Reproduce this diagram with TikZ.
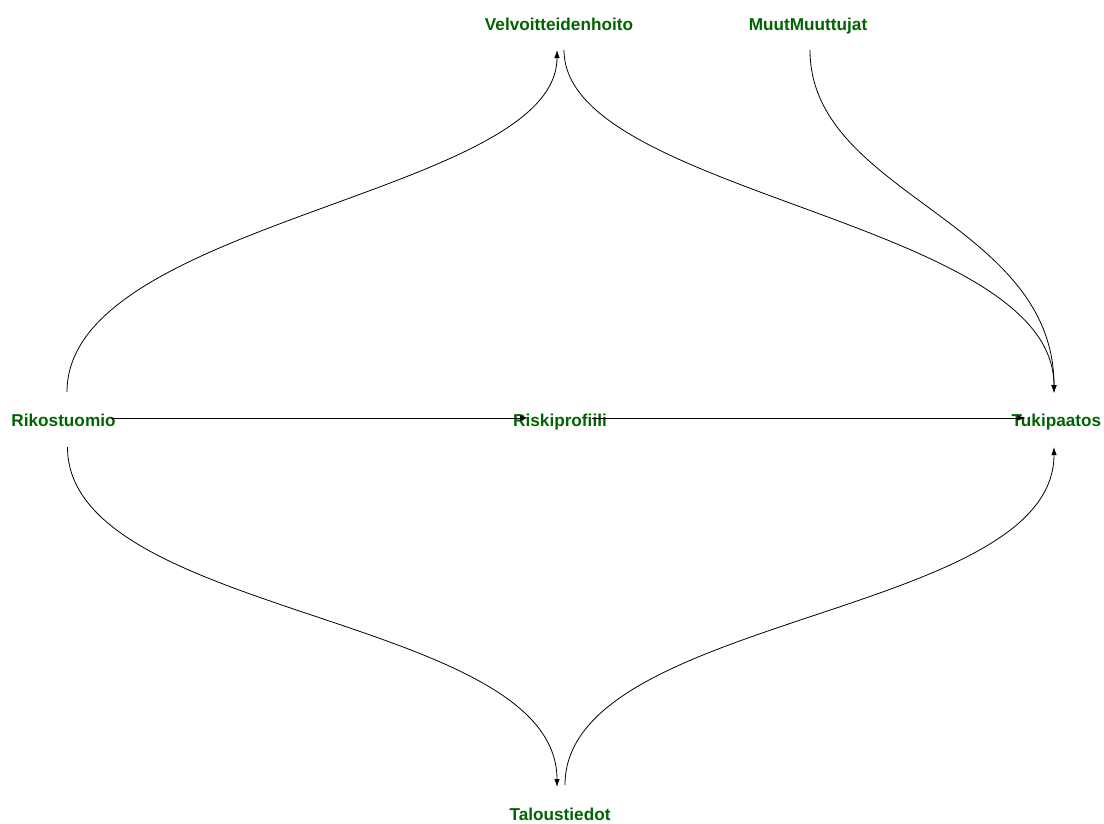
\documentclass[tikz,border=0pt]{standalone}
\usepackage{fontspec}
\setmainfont{Liberation Sans}
\usetikzlibrary{arrows.meta,calc}
\definecolor{dgreen}{RGB}{0,100,0}
\tikzset{
  var/.style={text=dgreen, font=\bfseries\fontsize{17.2}{19}\selectfont, inner sep=0pt, text height=12.5pt, text depth=0pt},
  edge/.style={line width=0.8pt, -{Latex[length=8pt,width=5.5pt]}}
}
\begin{document}
\begin{tikzpicture}[x=1pt,y=-1pt]
\useasboundingbox (0,0) rectangle (1104,823);
\node[var] (rik) at (63.5,420) {Rikostuomio};
\node[var] (risk) at (560,420) {Riskiprofiili};
\node[var] (tuki) at (1056.5,420) {Tukipaatos};
\node[var] (velv) at (559,24) {Velvoitteidenhoito};
\node[var] (muut) at (808,24) {MuutMuuttujat};
\node[var] (talo) at (560,814) {Taloustiedot};
% horizontal edges
\draw[edge] ($(rik)+(47,-2)$) -- ($(risk)+(-32,-2)$);
\draw[edge] ($(risk)+(32,-2)$) -- ($(tuki)+(-31,-2)$);
% curves
\draw[edge] ($(rik)+(3.5,-28)$) .. controls ($(rik)+(3.5,-200)$) and ($(velv)+(-2,171)$) .. ($(velv)+(-2,26)$);
\draw[edge] ($(velv)+(5,26)$) .. controls ($(velv)+(5,171)$) and ($(tuki)+(-2.5,-200)$) .. ($(tuki)+(-2.5,-27)$);
\draw[edge] ($(muut)+(2,26)$) .. controls ($(muut)+(2,171)$) and ($(tuki)+(-2.5,-200)$) .. ($(tuki)+(-2.5,-27)$);
\draw[edge] ($(rik)+(4,27)$) .. controls ($(rik)+(4,198)$) and ($(talo)+(-3,-200)$) .. ($(talo)+(-3,-27)$);
\draw[edge] ($(talo)+(5,-29)$) .. controls ($(talo)+(5,-200)$) and ($(tuki)+(-2.5,198)$) .. ($(tuki)+(-2.5,27)$);
\end{tikzpicture}
\end{document}
